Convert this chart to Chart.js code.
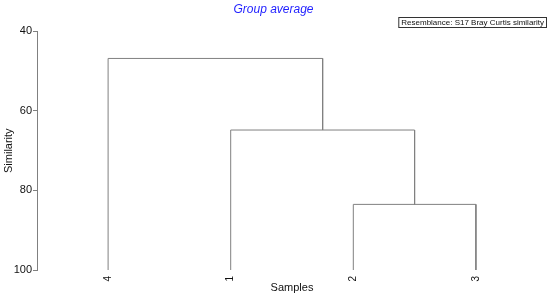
<!DOCTYPE html>
<html>
<head>
<meta charset="utf-8">
<script src="https://cdn.jsdelivr.net/npm/chart.js@4"></script>
<style>
  html, body { margin: 0; padding: 0; background: #fff; }
  canvas { display: block; }
</style>
</head>
<body>
<canvas id="chart" width="550" height="297"></canvas>
<script>
// ---------- Data ----------

// Leaves in the order they appear along the x axis
const leafLabels = ["4", "1", "2", "3"];
const leafSimilarity = 100;

// Each merge joins two members: a leaf label (string) or an earlier merge (index)
const merges = [
  ["2", "3"],
  ["1", 0],
  ["4", 1],
];
const mergeSimilarity = [83.5, 64.8, 46.8];

const yTicks = [40, 60, 80, 100];

const titleText = "Group average";
const resemblanceText = "Resemblance: S17 Bray Curtis similarity";

// ---------- Helpers ----------

const LINE = "#808080";
const FONT = "'Liberation Sans', Arial, sans-serif";

function nodePos(member, placed) {
  if (typeof member === "string") {
    return { x: leafLabels.indexOf(member) + 1, y: leafSimilarity };
  }
  return placed[member];
}

// Build one dataset per merge: up from the left child, across, down to the right child
function buildLinks() {
  const placed = [];
  const datasets = [];
  merges.forEach((pair, i) => {
    const a = nodePos(pair[0], placed);
    const b = nodePos(pair[1], placed);
    const h = mergeSimilarity[i];
    const left = a.x <= b.x ? a : b;
    const right = a.x <= b.x ? b : a;
    placed.push({ x: (a.x + b.x) / 2, y: h });
    datasets.push({
      data: [
        { x: left.x, y: left.y },
        { x: left.x, y: h },
        { x: right.x, y: h },
        { x: right.x, y: right.y },
      ],
      showLine: true,
      borderColor: LINE,
      borderWidth: 1,
      pointRadius: 0,
      tension: 0,
    });
  });
  return datasets;
}

// Small boxed note in the top right corner
const resemblanceBox = {
  id: "resemblanceBox",
  afterDraw(chart) {
    const ctx = chart.ctx;
    ctx.save();
    ctx.font = `8px ${FONT}`;
    const w = ctx.measureText(resemblanceText).width + 5;
    const right = chart.width - 3.5;
    const top = 17.5;
    ctx.strokeStyle = "#333";
    ctx.lineWidth = 1;
    ctx.strokeRect(right - w, top, w, 10);
    ctx.fillStyle = "#111";
    ctx.textBaseline = "middle";
    ctx.fillText(resemblanceText, right - w + 2.5, top + 5.5);
    ctx.restore();
  },
};

// ---------- Chart ----------

new Chart(document.getElementById("chart"), {
  type: "scatter",
  data: { datasets: buildLinks() },
  plugins: [resemblanceBox],
  options: {
    responsive: false,
    animation: false,
    devicePixelRatio: 1,
    layout: { padding: { left: 0, right: 3, top: 0, bottom: 0 } },
    plugins: {
      legend: { display: false },
      tooltip: { enabled: false },
      title: {
        display: true,
        text: titleText,
        color: "#1f1fff",
        font: { family: FONT, size: 12, style: "italic", weight: "normal" },
        padding: { top: 2, bottom: 15 },
      },
    },
    scales: {
      x: {
        type: "linear",
        min: 0.42,
        max: 4.58,
        grid: { display: false },
        border: { display: false },
        afterBuildTicks: (scale) => {
          scale.ticks = leafLabels.map((_, i) => ({ value: i + 1 }));
        },
        afterFit: (scale) => {
          scale.height = 27;
        },
        ticks: {
          autoSkip: false,
          minRotation: 90,
          maxRotation: 90,
          padding: -2,
          color: "#111",
          font: { family: FONT, size: 10 },
          callback: (v) => leafLabels[v - 1],
        },
        title: {
          display: true,
          text: "Samples",
          color: "#111",
          font: { family: FONT, size: 11 },
          padding: { top: 0, bottom: 2 },
        },
      },
      y: {
        reverse: true,
        min: 40,
        max: 100,
        afterBuildTicks: (scale) => {
          scale.ticks = yTicks.map((v) => ({ value: v }));
        },
        afterFit: (scale) => {
          scale.width = 37;
        },
        grid: {
          drawOnChartArea: false,
          drawTicks: true,
          tickLength: 4,
          color: LINE,
        },
        border: { display: true, color: LINE, width: 1 },
        ticks: {
          padding: 1,
          color: "#111",
          font: { family: FONT, size: 11 },
        },
        title: {
          display: true,
          text: "Similarity",
          color: "#111",
          font: { family: FONT, size: 11 },
          padding: { top: 2, bottom: 0 },
        },
      },
    },
  },
});
</script>
</body>
</html>
